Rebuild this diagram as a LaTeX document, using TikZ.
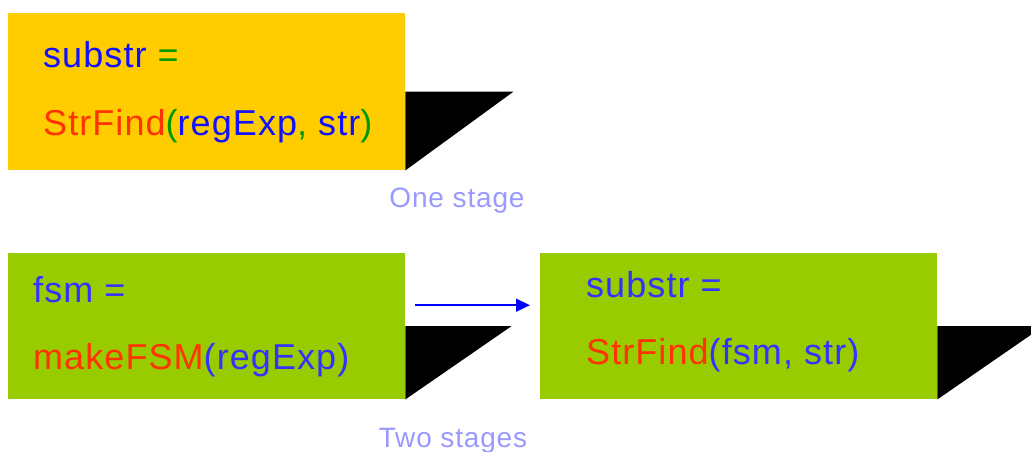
\documentclass[tikz,border=0pt]{standalone}
\usepackage{fontspec}
\setmainfont{Liberation Sans}
\usetikzlibrary{arrows.meta}
\definecolor{orangebox}{HTML}{FFCC00}
\definecolor{greenbox}{HTML}{99CC00}
\definecolor{ink}{HTML}{1111FF}
\definecolor{softink}{HTML}{3333FF}
\definecolor{callred}{HTML}{FF3300}
\definecolor{symgreen}{HTML}{009900}
\definecolor{caption}{HTML}{9999FF}
\tikzset{stagebox/.style={inner sep=0pt, anchor=north west},
    code/.style={inner sep=0pt, anchor=base west, font=\fontsize{36}{36}\selectfont\addfontfeature{LetterSpace=3}},
    stagelabel/.style={inner sep=0pt, anchor=base, text=caption, font=\fontsize{28}{28}\selectfont\addfontfeature{LetterSpace=3}},
    flow/.style={draw=blue, line width=1.5pt, -{Triangle[length=14pt, width=13pt]}}}

\begin{document}
\begin{tikzpicture}[x=1pt, y=-1pt]
                    \clip (0,0) rectangle (1031,452);
                    \useasboundingbox (0,0) rectangle (1031,452);
                    %One stage:
                    \node[stagebox, fill=orangebox, minimum width=397pt, minimum height=157pt] (onebox) at (8,13) {};
                    \fill[black] (onebox.east) -- ++(108,0) -- (onebox.south east) -- cycle;
                    \node[code] (onea) at (43,68) {\color{ink}substr \color{symgreen}=};
                    \node[code] (oneb) at (43,135) {\color{callred}StrFind\color{symgreen}(\color{ink}regExp\color{symgreen}, \color{ink}str\color{symgreen})};
                    \node[stagelabel] (onelabel) at (457,207) {One stage};
                    %Two stages:
                    \node[stagebox, fill=greenbox, minimum width=397pt, minimum height=146pt] (fsmbox) at (8,253) {};
                    \fill[black] (fsmbox.east) -- ++(106,0) -- (fsmbox.south east) -- cycle;
                    \node[code] (fsma) at (33,302) {\color{softink}fsm =};
                    \node[code] (fsmb) at (33,369) {\color{callred}makeFSM\color{softink}(regExp)};
                    \node[stagebox, fill=greenbox, minimum width=397pt, minimum height=146pt] (findbox) at (540,253) {};
                    \fill[black] (findbox.east) -- ++(106,0) -- (findbox.south east) -- cycle;
                    \node[code] (finda) at (586,297) {\color{softink}substr =};
                    \node[code] (findb) at (586,364) {\color{callred}StrFind\color{softink}(fsm, str)};
                    \draw[flow] ([xshift=10pt, yshift=21pt]fsmbox.east) -- ([xshift=-10pt, yshift=21pt]findbox.west);
                    \node[stagelabel] (twolabel) at (453,447) {Two stages};
                \end{tikzpicture}
\end{document}
